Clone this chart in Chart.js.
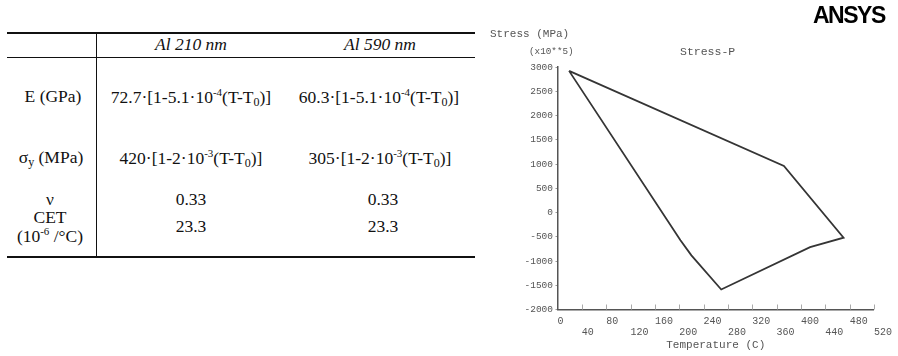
<!DOCTYPE html>
<html>
<head>
<meta charset="utf-8">
<script src="https://cdn.jsdelivr.net/npm/chart.js@4.4.1/dist/chart.umd.min.js"></script>
<style>
  html, body { margin: 0; padding: 0; background: #fff; }
  #page { position: relative; width: 898px; height: 356px; overflow: hidden; background: #fff; }
  .t { position: absolute; transform: translate(-50%, -50%); white-space: nowrap;
       font-family: "Liberation Serif", "Times New Roman", serif; font-size: 17.5px; color: #111; line-height: 1; }
  .t sup { font-size: 11px; vertical-align: 7px; }
  .t sub { font-size: 12px; vertical-align: -3px; }
  .i { font-style: italic; }
  .rule { position: absolute; background: #111; }
  .m { position: absolute; white-space: nowrap; font-family: "Liberation Mono", "DejaVu Sans Mono", monospace; color: #555; line-height: 1; transform: translateY(-50%); }
  #logo { position: absolute; left: 813px; top: 4px; font-family: "Liberation Sans", Arial, sans-serif;
          font-weight: bold; font-size: 23px; letter-spacing: -1.5px; color: #000; line-height: 1; }
  #chartBox { position: absolute; left: 480px; top: 0; width: 418px; height: 356px; }
</style>
</head>
<body>
<div id="page">
  <!-- material property table -->
  <div class="rule" style="left:7px; top:32px; width:468px; height:2px;"></div>
  <div class="rule" style="left:7px; top:57px; width:468px; height:1px;"></div>
  <div class="rule" style="left:7px; top:256px; width:468px; height:2px;"></div>
  <div class="rule" style="left:96px; top:33px; width:1px; height:224px;"></div>

  <div class="t i" style="left:191px; top:45px;">Al 210 nm</div>
  <div class="t i" style="left:380px; top:45px;">Al 590 nm</div>

  <div class="t" style="left:53px; top:97px;">E (GPa)</div>
  <div class="t" style="left:191px; top:97px;">72.7·[1-5.1·10<sup>-4</sup>(T-T<sub>0</sub>)]</div>
  <div class="t" style="left:379px; top:97px;">60.3·[1-5.1·10<sup>-4</sup>(T-T<sub>0</sub>)]</div>

  <div class="t" style="left:51px; top:158px;">σ<sub>y</sub> (MPa)</div>
  <div class="t" style="left:191px; top:158px;">420·[1-2·10<sup>-3</sup>(T-T<sub>0</sub>)]</div>
  <div class="t" style="left:380px; top:158px;">305·[1-2·10<sup>-3</sup>(T-T<sub>0</sub>)]</div>

  <div class="t" style="left:50px; top:200px;">ν</div>
  <div class="t" style="left:191px; top:200px;">0.33</div>
  <div class="t" style="left:383px; top:200px;">0.33</div>

  <div class="t" style="left:50px; top:218px;">CET</div>
  <div class="t" style="left:50px; top:236px;">(10<sup>-6</sup> /°C)</div>
  <div class="t" style="left:191px; top:227px;">23.3</div>
  <div class="t" style="left:383px; top:227px;">23.3</div>

  <!-- plot -->
  <div id="chartBox"><canvas id="c" width="418" height="356"></canvas></div>
  <div id="logo">ANSYS</div>
  <div class="m" style="left:490px; top:34px; font-size:11px;">Stress (MPa)</div>
  <div class="m" style="left:529px; top:52px; font-size:9.3px;">(x10**5)</div>
  <div class="m" style="left:680px; top:52px; font-size:11.5px;">Stress-P</div>
</div>

<script>
// Thermal cycle of the Al film: temperature (C) and stress (MPa, x10**5)
const temperature = [19, 202, 220, 269, 415, 470, 372, 19];
const stress      = [2920, -574, -884, -1587, -713, -519, 961, 2920];

// Axis ranges and tick spacing
const xRange = [0, 520];
const xStep = 40;
const yRange = [-2000, 3000];
const yStep = 500;

const points = temperature.map((t, i) => ({ x: t, y: stress[i] }));

// Small inward tick marks along the temperature axis
const innerTicks = {
  id: 'innerTicks',
  afterDraw(chart) {
    const xs = chart.scales.x;
    const ctx = chart.ctx;
    ctx.save();
    ctx.strokeStyle = '#aaa';
    ctx.lineWidth = 1;
    xs.ticks.forEach(tk => {
      if (tk.value === xRange[0]) return;
      const px = Math.round(xs.getPixelForValue(tk.value)) + 0.5;
      ctx.beginPath();
      ctx.moveTo(px, xs.top);
      ctx.lineTo(px, xs.top - 5);
      ctx.stroke();
    });
    ctx.restore();
  }
};

new Chart(document.getElementById('c'), {
  type: 'scatter',
  data: {
    datasets: [{
      data: points,
      showLine: true,
      borderColor: '#353535',
      borderWidth: 1.8,
      pointRadius: 0,
      tension: 0,
      fill: false
    }]
  },
  options: {
    responsive: false,
    animation: false,
    events: [],
    layout: { padding: { top: 67, right: 20, left: 0, bottom: 0 } },
    plugins: { legend: { display: false }, tooltip: { enabled: false }, title: { display: false } },
    scales: {
      x: {
        type: 'linear',
        min: xRange[0], max: xRange[1],
        afterFit: s => { s.height = 46.5; },
        border: { display: true, color: '#555', width: 1.5 },
        grid: { display: false, drawTicks: false },
        ticks: {
          stepSize: xStep,
          align: 'start',
          padding: 6,
          color: '#555',
          font: { family: 'Liberation Mono', size: 10, lineHeight: 1.15 },
          maxRotation: 0,
          autoSkip: false,
          callback: (v, i) => (i % 2 === 0 ? [String(v), ''] : ['', String(v)])
        },
        title: {
          display: true,
          text: 'Temperature (C)',
          color: '#555',
          font: { family: 'Liberation Mono', size: 11, lineHeight: 1.2 },
          padding: { top: 0, bottom: 4 }
        }
      },
      y: {
        type: 'linear',
        min: yRange[0], max: yRange[1],
        afterFit: s => { s.width = 77.5; },
        border: { display: true, color: '#555', width: 1.5 },
        grid: { display: true, drawOnChartArea: false, drawTicks: true, tickLength: 2, color: '#999' },
        ticks: {
          stepSize: yStep,
          padding: 2.5,
          color: '#555',
          font: { family: 'Liberation Mono', size: 9.5 },
          callback: v => String(v)
        }
      }
    }
  },
  plugins: [innerTicks]
});
</script>
</body>
</html>
